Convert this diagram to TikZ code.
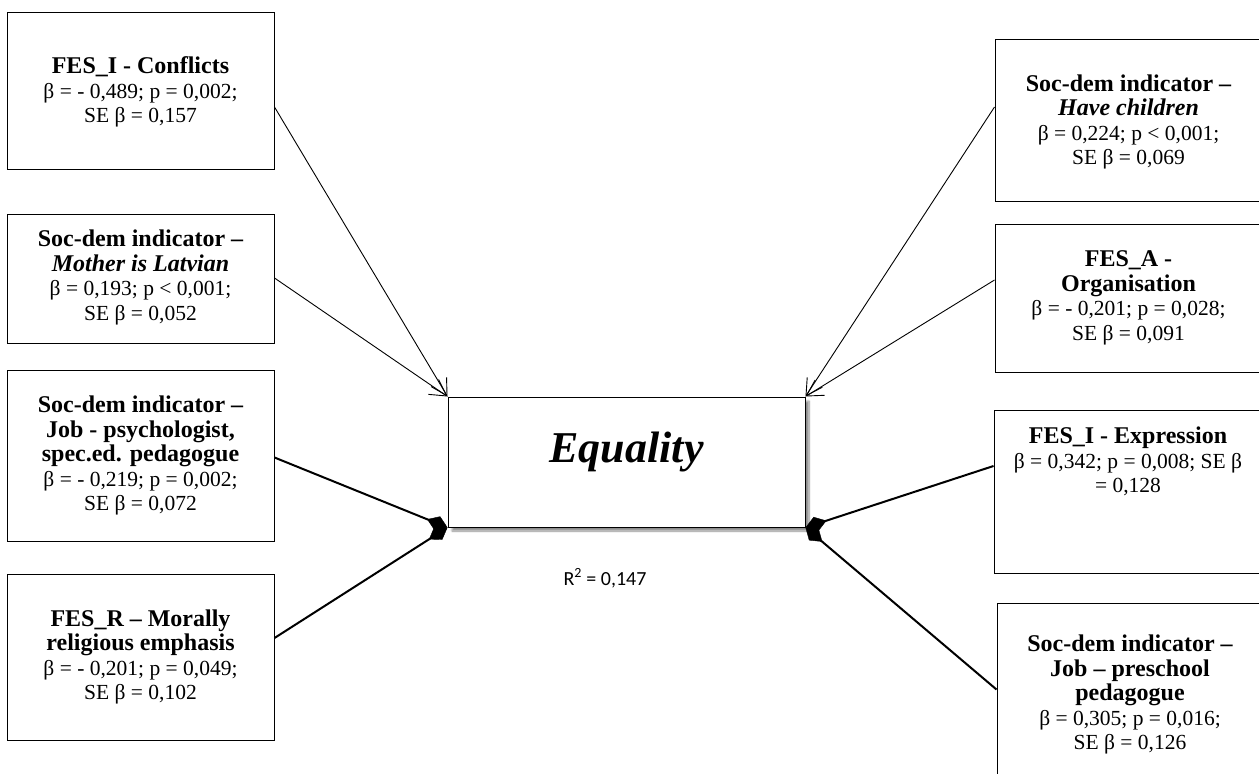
\documentclass[tikz,border=0pt]{standalone}
\usepackage{fontspec}
\setmainfont{Liberation Serif}
\newfontfamily\calib{Carlito}
\usetikzlibrary{arrows.meta,calc,shadows.blur}
\tikzset{
  box/.style={draw, line width=1pt, fill=white, minimum width=267pt, inner sep=0pt},
  txt/.style={align=center, font=\fontsize{21.5}{24.5}\selectfont, inner sep=0pt},
  thinarr/.style={line width=0.9pt, -{Straight Barb[length=16pt,width=18pt]}},
  thickarr/.style={line width=2pt, -{Kite[length=22pt,width=15pt,inset=11pt,line width=0.4pt]}},
}
\newcommand\hd[1]{{\fontsize{24}{24.5}\selectfont\bfseries #1}}
\begin{document}
\begin{tikzpicture}[x=1pt,y=-1pt]
\useasboundingbox (0,0) rectangle (1259,774);
% left boxes
\node[box, minimum height=157pt] (L1) at (140.5,90.5) {};
\node[txt] (L1t) at ($(L1.center)+(0,1.5)$) {\hd{FES\_I - Conflicts}\\ β = - 0,489; p = 0,002;\\ SE β = 0,157};
\node[box, minimum height=129pt] (L2) at (140.5,278.5) {};
\node[txt] (L2t) at ($(L2.center)+(0,-1)$) {\hd{Soc-dem indicator –}\\ \hd{\itshape Mother is Latvian}\\ β = 0,193; p < 0,001;\\ SE β = 0,052};
\node[box, minimum height=171pt] (L3) at (140.5,455.5) {};
\node[txt] (L3t) at ($(L3.center)+(0,0)$) {\hd{Soc-dem indicator –}\\ \hd{Job - psychologist,}\\ \hd{spec.ed. pedagogue}\\ β = - 0,219; p = 0,002;\\ SE β = 0,072};
\node[box, minimum height=166pt] (L4) at (140.5,657) {};
\node[txt] (L4t) at ($(L4.center)+(0,0)$) {\hd{FES\_R – Morally}\\ \hd{religious emphasis}\\ β = - 0,201; p = 0,049;\\ SE β = 0,102};
% right boxes
\node[box, minimum height=162pt] (R1) at (1128.5,120) {};
\node[txt] (R1t) at ($(R1.center)+(0,2)$) {\hd{Soc-dem indicator –}\\ \hd{\itshape Have children}\\ β = 0,224; p < 0,001;\\ SE β = 0,069};
\node[box, minimum height=148pt] (R2) at (1128.5,298) {};
\node[txt] (R2t) at ($(R2.center)+(0,0)$) {\hd{FES\_A -}\\ \hd{Organisation}\\ β = - 0,201; p = 0,028;\\ SE β = 0,091};
\node[box, minimum height=163pt, minimum width=268pt] (R3) at (1128,491.5) {};
\node[txt] (R3t) at ($(R3.center)+(0,-30)$) {\hd{FES\_I - Expression}\\ β = 0,342; p = 0,008; SE β\\ = 0,128};
\node[box, minimum height=182pt, minimum width=266pt] (R4) at (1130,694) {};
\node[txt] (R4t) at ($(R4.center)+(0,0.5)$) {\hd{Soc-dem indicator –}\\ \hd{Job – preschool}\\ \hd{pedagogue}\\ β = 0,305; p = 0,016;\\ SE β = 0,126};
% centre
\node[box, minimum width=357pt, minimum height=130pt,
      blur shadow={shadow xshift=4pt, shadow yshift=-4pt, shadow blur steps=8, shadow opacity=45}] (C) at (626.5,462) {};
\node[font=\fontsize{44}{44}\selectfont\bfseries\itshape, inner sep=0pt] (Ct) at (626.5,452) {Equality};
\node[font=\calib\fontsize{20}{20}\selectfont, inner sep=0pt] (rsq) at (605,578) {R\textsuperscript{2} = 0,147};
% connectors
\draw[thinarr] ($(L1.east)+(0,16.5)$) -- (C.north west);
\draw[thinarr] ($(L2.east)+(0,-0.5)$) -- (C.north west);
\draw[thickarr] ($(L3.east)+(0,2)$) -- (C.south west);
\draw[thickarr] ($(L4.east)+(0,-19)$) -- (C.south west);
\draw[thinarr] ($(R1.west)+(0,-13)$) -- (C.north east);
\draw[thinarr] ($(R2.west)+(0,-18)$) -- (C.north east);
\draw[thickarr] ($(R3.west)+(0,-25.5)$) -- (C.south east);
\draw[thickarr] ($(R4.west)+(0,-4.5)$) -- (C.south east);
\end{tikzpicture}
\end{document}
